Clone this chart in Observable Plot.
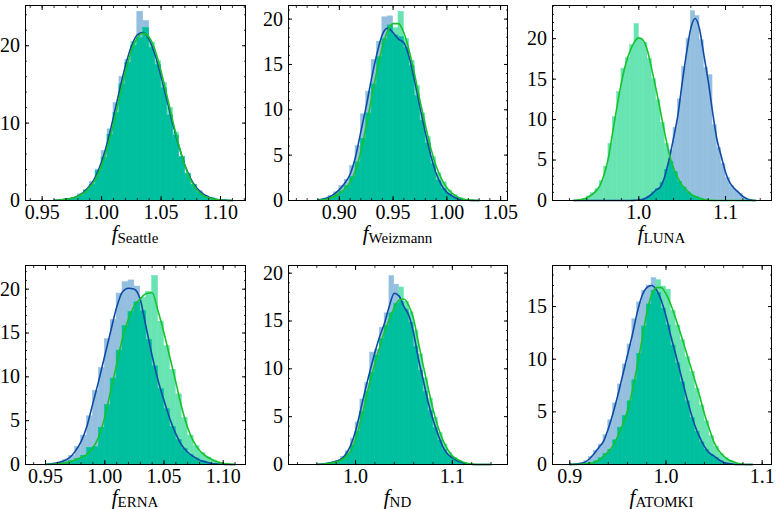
<!DOCTYPE html>
<html><head><meta charset="utf-8">
<script src="https://cdn.jsdelivr.net/npm/d3@7"></script>
<script src="https://cdn.jsdelivr.net/npm/@observablehq/plot@0.6"></script>
<style>
body{margin:0;background:#fff}
#wrap{position:relative;width:782px;height:509px;overflow:hidden;background:#fff}
#wrap svg, #wrap svg text{font-family:"Liberation Serif","DejaVu Serif",serif !important}
</style>
</head><body><div id="wrap"></div>
<script>
// ---- colours ----
const blueFill = "#94bfdf", greenFill = "#68e3b2", tealFill = "#00bf9f";
const blueLine = "#0f4aa6", greenLine = "#17c22c";

// ---- Seattle (bins start 0.960, width 0.005) ----
const seattleKdeBlue  = [0.03,0.07,0.15,0.3,0.6,1.1,1.9,3.1,5.0,7.6,10.8,14.2,17.4,19.9,21.4,21.7,20.8,18.8,16.0,12.9,9.8,7.0,4.6,2.8,1.6,0.9,0.45,0.2,0.08,0.03,0];
const seattleKdeGreen = [0.03,0.07,0.15,0.3,0.55,0.95,1.7,2.8,4.5,6.9,9.9,13.3,16.6,19.3,21.0,21.6,21.1,19.4,16.7,13.5,10.2,7.1,4.5,2.6,1.4,0.7,0.35,0.15,0.06,0.02,0];
const seattleHistBlue  = [0,0.1,0.1,0.3,0.8,1.3,2.4,4.0,6.4,9.2,12.6,16.0,18.2,20.0,24.4,23.2,19.7,17.5,14.5,11.0,8.4,5.6,3.5,2.0,1.2,0.6,0.3,0.1,0.05,0,0];
const seattleHistGreen = [0,0.1,0.2,0.3,0.6,1.3,2.0,3.8,5.5,8.5,11.3,15.0,17.8,20.5,21.0,22.3,20.4,18.0,15.2,12.0,8.8,5.6,3.4,2.0,1.0,0.5,0.25,0.1,0.03,0,0];

// ---- Weizmann (bins start 0.880, width 0.005) ----
const weizKdeBlue  = [0.05,0.15,0.35,0.7,1.2,1.9,2.9,4.8,7.6,10.4,13.5,16.2,18.3,19.0,18.5,17.8,17.4,15.8,13.2,10.3,7.5,5.0,3.0,1.7,0.9,0.5,0.2,0.08,0.02,0,0];
const weizKdeGreen = [0.02,0.08,0.2,0.45,0.8,1.3,2.0,3.3,5.4,8.2,11.3,14.3,16.9,18.7,19.5,19.5,18.5,16.5,13.9,11.0,8.3,5.8,3.8,2.4,1.4,0.8,0.4,0.15,0.05,0.01,0];
const weizHistBlue  = [0.1,0.2,0.5,0.9,1.6,2.3,3.8,6.0,9.5,12.0,15.5,17.5,20.2,20.3,18.2,18.0,16.8,14.8,11.5,8.8,6.3,4.0,2.2,1.3,0.7,0.3,0.1,0.05,0,0,0];
const weizHistGreen = [0,0.1,0.3,0.6,1.0,1.6,2.6,4.2,6.8,9.6,12.8,15.8,17.8,19.3,19.0,20.8,17.8,15.4,12.6,9.6,7.0,4.8,3.0,2.0,1.1,0.6,0.25,0.1,0.03,0,0];

// ---- LUNA (bins start 0.925, width 0.005) ----
const lunaKdeBlue  = [0,0,0,0,0,0,0,0,0,0,0,0,0, 0,0.02,0.05,0.15,0.4,0.8,1.3,1.7,3.0,5.1,7.7,10.5,14.5,18.2,21.3,22.5,21.2,18.0,14.8,11.0,7.6,5.5,3.5,2.2,1.5,1.0,0.5,0.18,0.05,0];
const lunaKdeGreen = [0.02,0.05,0.15,0.35,0.65,1.1,1.8,3.2,5.3,8.5,11.7,14.6,16.9,18.5,19.6,20.1,19.8,18.5,16.2,13.7,11.0,8.3,5.8,4.0,2.8,1.9,1.3,0.8,0.5,0.3,0.12,0.05,0.01, 0,0,0,0,0,0,0,0,0,0];
const lunaHistBlue  = [0,0,0,0,0,0,0,0,0,0,0,0,0,0, 0,0.1,0.2,0.5,1.0,1.4,2.2,3.8,6.2,9.0,12.5,16.5,20.0,23.4,22.8,19.8,16.4,15.5,9.3,6.5,4.5,2.8,1.8,1.2,0.8,0.35,0.1,0,0];
const lunaHistGreen = [0,0.1,0.2,0.5,0.9,1.4,2.4,4.2,7.0,10.3,13.4,16.3,17.6,19.2,21.8,20.0,19.5,17.5,15.0,12.4,9.6,7.0,4.8,3.5,2.3,1.6,1.0,0.6,0.4,0.2,0.1, 0,0,0,0,0,0,0,0,0,0,0,0];

// ---- ERNA (bins start 0.950, width 0.005) ----
const ernaKdeBlue  = [0.02,0.08,0.2,0.4,0.75,1.5,2.6,4.4,7.0,9.6,12.4,15.2,17.9,19.7,20.1,20.0,18.8,15.6,12.4,9.6,7.3,5.2,3.5,2.2,1.4,0.9,0.5,0.3,0.12,0.05,0.02,0,0];
const ernaKdeGreen = [0,0.03,0.08,0.15,0.3,0.5,0.8,1.15,1.9,3.2,5.4,8.4,11.4,14.4,16.6,18.1,18.9,19.5,19.6,17.5,15.0,12.2,9.4,6.5,4.2,2.6,1.6,1.0,0.6,0.3,0.12,0.04,0];
const ernaHistBlue  = [0,0.1,0.2,0.5,1.0,2.0,3.3,5.5,8.4,11.0,14.3,16.5,19.5,20.8,21.0,20.3,17.5,14.2,11.2,8.6,6.3,4.3,2.8,1.8,1.1,0.7,0.4,0.2,0.1,0,0,0,0];
const ernaHistGreen = [0,0,0.1,0.2,0.4,0.6,1.0,1.9,2.0,4.2,6.8,9.8,13.0,15.8,17.4,18.5,19.0,19.7,21.5,16.3,13.5,10.8,8.0,5.3,3.3,2.1,1.3,0.8,0.45,0.2,0.08,0,0];

// ---- ND (bins start 0.960, width 0.005) ----
const ndKdeBlue  = [0.02,0.05,0.1,0.2,0.35,0.55,1.1,2.0,3.5,5.6,7.8,9.8,11.7,13.4,14.8,16.6,17.9,17.6,16.5,15.6,13.7,11.0,8.8,6.5,4.7,3.2,1.9,1.1,0.7,0.4,0.2,0.08,0.02,0,0,0,0];
const ndKdeGreen = [0.01,0.03,0.07,0.14,0.25,0.45,0.8,1.4,2.6,4.4,6.5,8.7,10.5,12.3,13.9,15.2,16.4,17.2,17.3,16.6,15.2,12.7,10.3,8.0,5.8,4.0,2.6,1.6,0.9,0.55,0.3,0.12,0.04,0,0,0,0];
const ndHistBlue  = [0,0,0.1,0.2,0.4,0.8,1.4,2.7,4.4,6.8,8.5,11.7,12.0,14.3,15.8,19.7,18.8,17.0,16.2,14.8,12.3,9.8,7.6,5.6,3.8,2.5,1.5,0.9,0.5,0.3,0.1,0.05,0,0,0,0,0];
const ndHistGreen = [0,0,0.1,0.2,0.3,0.6,1.1,2.0,3.4,5.5,7.6,9.6,11.4,13.1,14.5,15.8,16.8,18.5,17.0,15.9,14.0,11.5,9.0,6.9,4.9,3.3,2.1,1.2,0.7,0.4,0.2,0.06,0,0,0,0,0];

// ---- ATOMKI (bins start 0.900, width 0.005) ----
const atomKdeBlue  = [0.01,0.03,0.08,0.2,0.5,1.0,1.6,2.2,3.4,4.9,6.6,8.5,10.4,12.3,14.4,16.0,16.8,17.0,16.6,15.6,14.1,12.2,10.5,8.7,6.9,5.2,3.7,2.6,1.7,1.1,0.8,0.45,0.2,0.08,0.02,0,0,0,0];
const atomKdeGreen = [0,0.01,0.02,0.05,0.1,0.2,0.4,0.8,1.2,1.8,2.7,3.8,5.1,7.0,9.3,11.8,14.4,16.1,16.8,16.8,16.2,15.2,13.9,12.5,11.0,9.5,8.0,6.5,4.8,3.4,2.1,1.3,0.8,0.45,0.25,0.1,0.03,0,0];
const atomHistBlue  = [0,0,0.1,0.3,0.7,1.3,1.9,2.8,4.2,5.8,7.6,9.5,11.4,13.8,15.4,16.5,17.0,17.7,16.3,14.8,13.2,11.3,9.6,7.8,6.0,4.4,3.1,2.1,1.4,0.9,0.6,0.3,0.1,0.05,0,0,0,0,0];
const atomHistGreen = [0,0,0,0.1,0.15,0.3,0.6,1.0,1.4,2.3,3.5,4.6,6.0,8.0,10.5,13.1,15.2,16.5,17.5,16.9,16.6,14.6,13.2,11.8,10.2,8.8,7.2,5.6,4.1,2.7,1.7,1.0,0.6,0.35,0.15,0.05,0,0,0];

// ---- tick labels ----
const xTicksSeattle = [0.95, 1.00, 1.05, 1.10];
const xTicksWeiz    = [0.90, 0.95, 1.00, 1.05];
const xTicksLuna    = [1.0, 1.1];
const xTicksErna    = [0.95, 1.00, 1.05, 1.10];
const xTicksNd      = [1.0, 1.1];
const xTicksAtom    = [0.9, 1.0, 1.1];
const yTicks10 = [0, 10, 20];
const yTicks5  = [0, 5, 10, 15, 20];
const yTicks5b = [0, 5, 10, 15];

const panels = [
  {name:"Seattle",  left:25,  top:5,   w:220, h:195, xd:[0.936,1.121],  yd:[0,25.2], xt:xTicksSeattle, fmt:".2f", xmin:[0.93,1.13,0.01], yt:yTicks10, ymin:[0,25,2], start:0.960, kb:seattleKdeBlue, kg:seattleKdeGreen, hb:seattleHistBlue, hg:seattleHistGreen},
  {name:"Weizmann", left:288, top:5,   w:219, h:195, xd:[0.8527,1.0564],yd:[0,21.5], xt:xTicksWeiz,    fmt:".2f", xmin:[0.85,1.06,0.01], yt:yTicks5,  ymin:[0,21,1], start:0.880, kb:weizKdeBlue, kg:weizKdeGreen, hb:weizHistBlue, hg:weizHistGreen},
  {name:"LUNA",     left:552, top:5,   w:219, h:195, xd:[0.9005,1.153], yd:[0,24.1], xt:xTicksLuna,    fmt:".1f", xmin:[0.90,1.16,0.02], yt:yTicks5,  ymin:[0,24,1], start:0.925, kb:lunaKdeBlue, kg:lunaKdeGreen, hb:lunaHistBlue, hg:lunaHistGreen},
  {name:"ERNA",     left:25,  top:265, w:220, h:199, xd:[0.9331,1.1188],yd:[0,22.7], xt:xTicksErna,    fmt:".2f", xmin:[0.93,1.12,0.01], yt:yTicks5,  ymin:[0,22,1], start:0.950, kb:ernaKdeBlue, kg:ernaKdeGreen, hb:ernaHistBlue, hg:ernaHistGreen},
  {name:"ND",       left:288, top:265, w:219, h:199, xd:[0.9307,1.157], yd:[0,20.8], xt:xTicksNd,      fmt:".1f", xmin:[0.94,1.16,0.02], yt:yTicks5,  ymin:[0,20,1], start:0.960, kb:ndKdeBlue, kg:ndKdeGreen, hb:ndHistBlue, hg:ndHistGreen},
  {name:"ATOMKI",   left:552, top:265, w:219, h:199, xd:[0.882,1.1097], yd:[0,18.9], xt:xTicksAtom,    fmt:".1f", xmin:[0.88,1.11,0.02], yt:yTicks5b, ymin:[0,18,1], start:0.900, kb:atomKdeBlue, kg:atomKdeGreen, hb:atomHistBlue, hg:atomHistGreen}
];
const binWidth = 0.005;

function steps(lo, hi, st) {
  const n = Math.round((hi - lo) / st);
  return d3.range(n + 1).map(i => +(lo + i * st).toFixed(4));
}

const wrap = document.getElementById("wrap");
const ml = 30, mr = 10, mt = 5, mb = 48;
const blank = () => "";

for (const p of panels) {
  const bins = p.hb.map((v, i) => ({
    x1: p.start + i * binWidth, x2: p.start + (i + 1) * binWidth,
    b: v, g: p.hg[i], o: Math.min(v, p.hg[i])
  }));
  const kde = p.kb.map((v, i) => ({x: p.start + i * binWidth, b: v, g: p.kg[i]}));
  const xMinor = steps(...p.xmin).filter(v => v >= p.xd[0] && v <= p.xd[1]);
  const yMinor = steps(...p.ymin).filter(v => v <= p.yd[1]);
  const svg = Plot.plot({
    width: ml + p.w + mr, height: mt + p.h + mb,
    marginLeft: ml, marginRight: mr, marginTop: mt, marginBottom: mb,
    style: {fontFamily: "Liberation Serif, DejaVu Serif, serif", fontSize: "20px", color: "#000", background: "transparent", overflow: "visible"},
    x: {domain: p.xd},
    y: {domain: p.yd},
    marks: [
      Plot.rectY(bins, {x1: "x1", x2: "x2", y: "b", fill: blueFill, stroke: blueFill, strokeWidth: 0.5}),
      Plot.rectY(bins, {x1: "x1", x2: "x2", y: "g", fill: greenFill, stroke: greenFill, strokeWidth: 0.5}),
      Plot.rectY(bins, {x1: "x1", x2: "x2", y: "o", fill: tealFill, stroke: tealFill, strokeWidth: 0.5}),
      Plot.line(kde, {x: "x", y: "b", stroke: blueLine, strokeWidth: 1.6, curve: "monotone-x"}),
      Plot.line(kde, {x: "x", y: "g", stroke: greenLine, strokeWidth: 1.6, curve: "monotone-x"}),
      Plot.frame({stroke: "#000", strokeWidth: 1}),
      Plot.axisX({ticks: xMinor, anchor: "bottom", tickSize: -2, tickFormat: blank, label: null, strokeWidth: 0.8}),
      Plot.axisX({ticks: xMinor, anchor: "top", tickSize: -2, tickFormat: blank, label: null, strokeWidth: 0.8}),
      Plot.axisX({ticks: p.xt, anchor: "bottom", tickSize: -4, tickPadding: 8.5, tickFormat: d3.format(p.fmt), label: null}),
      Plot.axisX({ticks: p.xt, anchor: "top", tickSize: -4, tickFormat: blank, label: null}),
      Plot.axisY({ticks: yMinor, anchor: "left", tickSize: -2, tickFormat: blank, label: null, strokeWidth: 0.8}),
      Plot.axisY({ticks: yMinor, anchor: "right", tickSize: -2, tickFormat: blank, label: null, strokeWidth: 0.8}),
      Plot.axisY({ticks: p.yt, anchor: "left", tickSize: -4, tickPadding: 9.5, tickFormat: d => String(d), label: null}),
      Plot.axisY({ticks: p.yt, anchor: "right", tickSize: -4, tickFormat: blank, label: null})
    ]
  });
  const t = d3.select(svg).append("text")
    .attr("x", ml + p.w / 2).attr("y", mt + p.h + 40)
    .attr("text-anchor", "middle").attr("fill", "#000");
  t.append("tspan").attr("font-style", "italic").attr("font-size", 21).text("f");
  t.append("tspan").attr("font-size", 15).attr("dy", 3).text(p.name);
  svg.style.position = "absolute";
  svg.style.left = (p.left - ml) + "px";
  svg.style.top = (p.top - mt) + "px";
  wrap.appendChild(svg);
}
</script>
</body></html>
